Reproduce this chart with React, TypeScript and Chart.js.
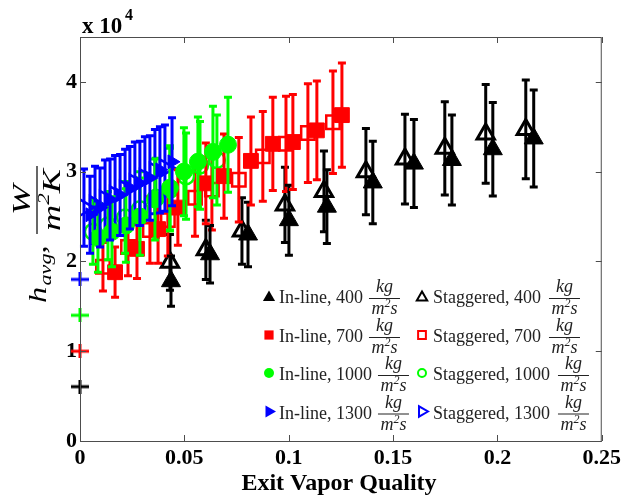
import React, { useEffect, useRef } from 'react';
import { Chart, registerables } from 'chart.js';
Chart.register(...registerables);

const FONT = '"Liberation Serif", "Times New Roman", serif';

// Axis ticks
const xTicks = [0, 0.05, 0.1, 0.15, 0.2, 0.25];
const xTickLabels = ['0', '0.05', '0.1', '0.15', '0.2', '0.25'];
const yTicks = [0, 10000, 20000, 30000, 40000];
const yTickLabels = ['0', '1', '2', '3', '4'];

// In-line, 400 kg/m2s (filled black triangles)
const inline400X = [0.0436, 0.0623, 0.0805, 0.1001, 0.1183, 0.1403, 0.16, 0.1782, 0.1978, 0.2174];
const inline400Y = [17800, 20800, 23000, 24600, 26100, 28800, 30900, 31300, 32500, 33700];
const inline400E = [2800, 3200, 3600, 3900, 4100, 4600, 4900, 5000, 5200, 5400];
// Staggered, 400 (open black triangles)
const stag400X = [0.0431, 0.0603, 0.0776, 0.0982, 0.1169, 0.137, 0.1557, 0.1748, 0.1944, 0.2136];
const stag400Y = [19900, 21300, 23400, 26300, 27800, 30000, 31400, 32600, 34200, 34700];
const stag400E = [3100, 3300, 3700, 4200, 4500, 4800, 5000, 5200, 5500, 5500];

// In-line, 700 (filled red squares)
const inline700X = [0.0168, 0.0273, 0.0374, 0.0469, 0.0603, 0.069, 0.0819, 0.0924, 0.102, 0.1135, 0.1255];
const inline700Y = [18800, 21400, 23600, 26000, 28700, 29500, 31200, 33100, 33300, 34600, 36300];
const inline700E = [2800, 3300, 3800, 4200, 4500, 4700, 4900, 5200, 5300, 5500, 5800];
// Staggered, 700 (open red squares)
const stag700X = [0.011, 0.023, 0.0335, 0.0421, 0.0551, 0.0632, 0.0761, 0.0876, 0.0987, 0.1092, 0.1212];
const stag700Y = [19400, 21600, 23500, 24600, 27100, 28000, 29100, 31700, 33100, 34300, 35500];
const stag700E = [2700, 3200, 3700, 4000, 4300, 4500, 4700, 5000, 5300, 5500, 5700];

// In-line, 1000 (filled green circles)
const inline1000X = [0.0086, 0.0153, 0.022, 0.0287, 0.0359, 0.0431, 0.0498, 0.0565, 0.0637, 0.0709];
const inline1000Y = [22600, 23300, 24000, 25000, 26900, 28200, 30000, 31100, 32200, 33000];
const inline1000E = [3800, 3900, 4100, 4300, 4500, 4700, 4900, 5000, 5100, 5300];
// Staggered, 1000 (open green circles)
const stag1000X = [0.0062, 0.0134, 0.0216, 0.0287, 0.0364, 0.0431, 0.0508, 0.0575, 0.0656];
const stag1000Y = [23300, 24000, 24900, 25800, 27100, 28000, 29500, 30700, 31300];
const stag1000E = [3600, 3800, 4000, 4200, 4400, 4600, 4800, 4900, 5000];

// In-line, 1300 (filled blue right triangles)
const inline1300X = [0.0048, 0.0096, 0.0144, 0.0192, 0.0239, 0.0287, 0.0335, 0.0383, 0.0441];
const inline1300Y = [25200, 26000, 26900, 27400, 28200, 28700, 29300, 30200, 31100];
const inline1300E = [4300, 4400, 4500, 4500, 4600, 4700, 4700, 4800, 4900];
// Staggered, 1300 (open blue right triangles)
const stag1300X = [0.0019, 0.0072, 0.012, 0.0168, 0.0216, 0.0263, 0.0311, 0.0359, 0.0407];
const stag1300Y = [26000, 26300, 26900, 27400, 28000, 28700, 29300, 30000, 30400];
const stag1300E = [4300, 4300, 4400, 4400, 4500, 4600, 4600, 4700, 4800];

// Plus markers on the y axis
const crossX = [0, 0, 0, 0];
const crossY = [6050, 10000, 14000, 18000];
const crossColors = ['#000000', '#ff0000', '#00ff00', '#0000ff'];

// Legend
const legendLeft = ['In-line, 400', 'In-line, 700', 'In-line, 1000', 'In-line, 1300'];
const legendRight = ['Staggered, 400', 'Staggered, 700', 'Staggered, 1000', 'Staggered, 1300'];
const legendColors = ['#000000', '#ff0000', '#00ff00', '#0000ff'];
const legendShapes = ['triangle', 'rect', 'circle', 'rtriangle'];

const BLACK = '#000000';
const RED = '#ff0000';
const GREEN = '#00ff00';
const BLUE = '#0000ff';

function pts(xs: number[], ys: number[]) {
  return xs.map((x, i) => ({ x, y: ys[i] }));
}

function plusImage(color: string) {
  const c = document.createElement('canvas');
  c.width = 18;
  c.height = 14;
  const g = c.getContext('2d')!;
  g.strokeStyle = color;
  g.lineWidth = 3;
  g.beginPath();
  g.moveTo(0, 7);
  g.lineTo(18, 7);
  g.moveTo(9, 0);
  g.lineTo(9, 14);
  g.stroke();
  return c;
}

function drawMarker(ctx: CanvasRenderingContext2D, shape: string, x: number, y: number, r: number, color: string, filled: boolean) {
  ctx.save();
  ctx.beginPath();
  if (shape === 'triangle') {
    ctx.moveTo(x, y - r);
    ctx.lineTo(x + r * 0.866, y + r * 0.5);
    ctx.lineTo(x - r * 0.866, y + r * 0.5);
    ctx.closePath();
  } else if (shape === 'rtriangle') {
    ctx.moveTo(x + r, y);
    ctx.lineTo(x - r * 0.5, y + r * 0.866);
    ctx.lineTo(x - r * 0.5, y - r * 0.866);
    ctx.closePath();
  } else if (shape === 'rect') {
    const s = r * 0.7071;
    ctx.rect(x - s, y - s, 2 * s, 2 * s);
  } else {
    ctx.arc(x, y, r, 0, Math.PI * 2);
  }
  if (filled) {
    ctx.fillStyle = color;
    ctx.fill();
  } else {
    ctx.strokeStyle = color;
    ctx.lineWidth = 2;
    ctx.stroke();
  }
  ctx.restore();
}

function drawUnitFraction(ctx: CanvasRenderingContext2D, x0: number, bar: number) {
  ctx.save();
  ctx.fillStyle = '#222';
  ctx.font = `italic 18px ${FONT}`;
  const wm = ctx.measureText('m').width;
  const ws = ctx.measureText('s').width;
  ctx.font = `italic 12px ${FONT}`;
  const w2 = ctx.measureText('2').width;
  const denW = wm + w2 + ws;
  ctx.font = `italic 18px ${FONT}`;
  const numW = ctx.measureText('kg').width;
  const len = Math.max(denW, numW) + 5;
  ctx.strokeStyle = '#222';
  ctx.lineWidth = 1;
  ctx.beginPath();
  ctx.moveTo(x0, bar + 0.5);
  ctx.lineTo(x0 + len, bar + 0.5);
  ctx.stroke();
  ctx.textBaseline = 'alphabetic';
  ctx.fillText('kg', x0 + (len - numW) / 2, bar - 6);
  let dx = x0 + (len - denW) / 2;
  ctx.fillText('m', dx, bar + 16);
  dx += wm;
  ctx.font = `italic 12px ${FONT}`;
  ctx.fillText('2', dx, bar + 9);
  dx += w2;
  ctx.font = `italic 18px ${FONT}`;
  ctx.fillText('s', dx, bar + 16);
  ctx.restore();
}

const errorBarPlugin = {
  id: 'errorBars',
  beforeDatasetDraw(chart: any, args: any) {
    const ds = chart.data.datasets[args.index];
    const errs: number[] | undefined = ds.errors;
    if (!errs) return;
    const ctx = chart.ctx as CanvasRenderingContext2D;
    const yScale = chart.scales.y;
    ctx.save();
    ctx.strokeStyle = ds.errorColor;
    ctx.lineWidth = 3;
    args.meta.data.forEach((pt: any, i: number) => {
      const v = ds.data[i].y;
      const top = yScale.getPixelForValue(v + errs[i]);
      const bot = yScale.getPixelForValue(v - errs[i]);
      const x = pt.x;
      ctx.beginPath();
      ctx.moveTo(x, top);
      ctx.lineTo(x, bot);
      ctx.moveTo(x - 4, top);
      ctx.lineTo(x + 4, top);
      ctx.moveTo(x - 4, bot);
      ctx.lineTo(x + 4, bot);
      ctx.stroke();
    });
    ctx.restore();
  },
};

const decorPlugin = {
  id: 'decor',
  afterDraw(chart: any) {
    const ctx = chart.ctx as CanvasRenderingContext2D;
    const { left, right, top, bottom } = chart.chartArea;
    const xs = chart.scales.x;
    const ys = chart.scales.y;
    ctx.save();
    // box and inward ticks
    ctx.strokeStyle = '#4d4d4d';
    ctx.lineWidth = 1;
    ctx.strokeRect(left + 0.5, top + 0.5, right - left - 1, bottom - top);
    ctx.beginPath();
    xTicks.forEach((v) => {
      const px = Math.round(xs.getPixelForValue(v)) + 0.5;
      ctx.moveTo(px, bottom);
      ctx.lineTo(px, bottom - 6);
      ctx.moveTo(px, top);
      ctx.lineTo(px, top + 6);
    });
    yTicks.forEach((v) => {
      const py = Math.round(ys.getPixelForValue(v)) + 0.5;
      ctx.moveTo(left, py);
      ctx.lineTo(left + 6, py);
      ctx.moveTo(right, py);
      ctx.lineTo(right - 6, py);
    });
    ctx.stroke();

    // exponent label
    ctx.fillStyle = '#000';
    ctx.textBaseline = 'alphabetic';
    ctx.textAlign = 'left';
    ctx.font = `bold 23px ${FONT}`;
    ctx.fillText('x 10', 82, 33);
    ctx.font = `bold 16px ${FONT}`;
    ctx.fillText('4', 125, 20);

    // x title
    ctx.font = `bold 24px ${FONT}`;
    ctx.textAlign = 'center';
    ctx.fillText('Exit Vapor Quality', 339, 490);

    // y title: h_avg, W/(m^2 K)
    ctx.save();
    ctx.translate(46, 303);
    ctx.rotate(-Math.PI / 2);
    ctx.scale(1.3, 1);
    ctx.textAlign = 'left';
    let u = 0;
    ctx.font = `italic 25px ${FONT}`;
    ctx.fillText('h', u, 0);
    u += ctx.measureText('h').width + 1;
    ctx.font = `italic 17px ${FONT}`;
    ctx.fillText('avg', u, 5);
    u += ctx.measureText('avg').width;
    ctx.font = `italic 25px ${FONT}`;
    ctx.fillText(',', u, 0);
    ctx.restore();

    ctx.save();
    ctx.translate(37, 200);
    ctx.rotate(-Math.PI / 2);
    ctx.scale(1.45, 1);
    ctx.font = `italic 25px ${FONT}`;
    const wM = ctx.measureText('m').width;
    const wK = ctx.measureText('K').width;
    ctx.font = `italic 16px ${FONT}`;
    const w2 = ctx.measureText('2').width;
    const den = wM + w2 + wK;
    const half = den / 2 + 2;
    ctx.lineWidth = 1.2;
    ctx.strokeStyle = '#000';
    ctx.beginPath();
    ctx.moveTo(-half, 0);
    ctx.lineTo(half, 0);
    ctx.stroke();
    ctx.font = `italic 25px ${FONT}`;
    ctx.textAlign = 'center';
    ctx.fillText('W', 0, -7);
    ctx.textAlign = 'left';
    let d = -den / 2;
    ctx.fillText('m', d, 23);
    d += wM;
    ctx.font = `italic 16px ${FONT}`;
    ctx.fillText('2', d, 12);
    d += w2;
    ctx.font = `italic 25px ${FONT}`;
    ctx.fillText('K', d, 23);
    ctx.restore();

    // legend
    const rowBase = [303, 342, 380, 418.5];
    const sizes = [7, 6.5, 5, 7];
    for (let i = 0; i < 4; i++) {
      const by = rowBase[i];
      const my = by - 7;
      drawMarker(ctx, legendShapes[i], 269, my + (legendShapes[i] === 'triangle' ? 1.5 : 0), sizes[i], legendColors[i], true);
      drawMarker(ctx, legendShapes[i], 422, my + (legendShapes[i] === 'triangle' ? 1.5 : 0), sizes[i] - 1, legendColors[i], false);
      ctx.fillStyle = '#222';
      ctx.textAlign = 'left';
      ctx.font = `18px ${FONT}`;
      ctx.fillText(legendLeft[i], 279, by);
      const w1 = ctx.measureText(legendLeft[i]).width;
      drawUnitFraction(ctx, 279 + w1 + 6, by - 5);
      ctx.fillStyle = '#222';
      ctx.font = `18px ${FONT}`;
      ctx.fillText(legendRight[i], 433, by);
      const w2r = ctx.measureText(legendRight[i]).width;
      drawUnitFraction(ctx, 433 + w2r + 8, by - 5);
    }
    ctx.restore();
  },
};

export default function App() {
  const ref = useRef<HTMLCanvasElement>(null);
  useEffect(() => {
    if (!ref.current) return;
    const hollow = 'rgba(0,0,0,0)';
    // Lower index is drawn on top
    const chart = new Chart(ref.current, {
      type: 'scatter',
      data: {
        datasets: [
          { label: 'In-line, 1300', data: pts(inline1300X, inline1300Y), errors: inline1300E, errorColor: BLUE, pointStyle: 'triangle', rotation: 90, pointRotation: 90, pointRadius: 8, pointBorderWidth: 1, pointBorderColor: BLUE, pointBackgroundColor: BLUE } as any,
          { label: 'In-line, 1000', data: pts(inline1000X, inline1000Y), errors: inline1000E, errorColor: GREEN, pointStyle: 'circle', pointRadius: 8.5, pointBorderWidth: 1, pointBorderColor: GREEN, pointBackgroundColor: GREEN } as any,
          { label: 'In-line, 700', data: pts(inline700X, inline700Y), errors: inline700E, errorColor: RED, pointStyle: 'rect', pointRadius: 10.5, pointBorderWidth: 1, pointBorderColor: RED, pointBackgroundColor: RED } as any,
          { label: 'In-line, 400', data: pts(inline400X, inline400Y), errors: inline400E, errorColor: BLACK, pointStyle: 'triangle', pointRadius: 11, pointBorderWidth: 1, pointBorderColor: BLACK, pointBackgroundColor: BLACK } as any,
          { label: 'Staggered, 1300', data: pts(stag1300X, stag1300Y), errors: stag1300E, errorColor: BLUE, pointStyle: 'triangle', rotation: 90, pointRotation: 90, pointRadius: 10, pointBorderWidth: 2.5, pointBorderColor: BLUE, pointBackgroundColor: hollow } as any,
          { label: 'Staggered, 1000', data: pts(stag1000X, stag1000Y), errors: stag1000E, errorColor: GREEN, pointStyle: 'circle', pointRadius: 8, pointBorderWidth: 2.5, pointBorderColor: GREEN, pointBackgroundColor: hollow } as any,
          { label: 'Staggered, 700', data: pts(stag700X, stag700Y), errors: stag700E, errorColor: RED, pointStyle: 'rect', pointRadius: 9.5, pointBorderWidth: 2.5, pointBorderColor: RED, pointBackgroundColor: hollow } as any,
          { label: 'Staggered, 400', data: pts(stag400X, stag400Y), errors: stag400E, errorColor: BLACK, pointStyle: 'triangle', pointRadius: 10, pointBorderWidth: 3, pointBorderColor: BLACK, pointBackgroundColor: hollow } as any,
          { label: 'markers', data: pts(crossX, crossY), pointStyle: crossColors.map(plusImage), pointRadius: 8, clip: false } as any,
        ],
      },
      options: {
        responsive: false,
        animation: false,
        events: [],
        layout: { padding: { left: 0, right: 23, top: 37, bottom: 0 } },
        plugins: { legend: { display: false }, tooltip: { enabled: false }, title: { display: false } },
        scales: {
          x: {
            type: 'linear',
            min: 0,
            max: 0.25,
            grid: { display: false, drawTicks: false },
            border: { display: false },
            afterBuildTicks: (s: any) => {
              s.ticks = xTicks.map((v) => ({ value: v }));
            },
            afterFit: (s: any) => {
              s.height = 57;
            },
            ticks: {
              color: '#000',
              padding: 4,
              maxRotation: 0,
              autoSkip: false,
              font: { family: FONT, size: 22, weight: 'bold' },
              callback: (_v: any, i: number) => xTickLabels[i],
            },
          },
          y: {
            type: 'linear',
            min: 0,
            max: 45000,
            grid: { display: false, drawTicks: false },
            border: { display: false },
            afterBuildTicks: (s: any) => {
              s.ticks = yTicks.map((v) => ({ value: v }));
            },
            afterFit: (s: any) => {
              s.width = 80;
            },
            ticks: {
              color: '#000',
              padding: 3,
              autoSkip: false,
              font: { family: FONT, size: 22, weight: 'bold' },
              callback: (_v: any, i: number) => yTickLabels[i],
            },
          },
        },
      } as any,
      plugins: [errorBarPlugin, decorPlugin],
    });
    return () => chart.destroy();
  }, []);
  return (
    <div style={{ position: 'absolute', left: 0, top: 0, width: 625, height: 498, background: '#fff' }}>
      <canvas ref={ref} width={625} height={498} style={{ display: 'block' }} />
    </div>
  );
}
